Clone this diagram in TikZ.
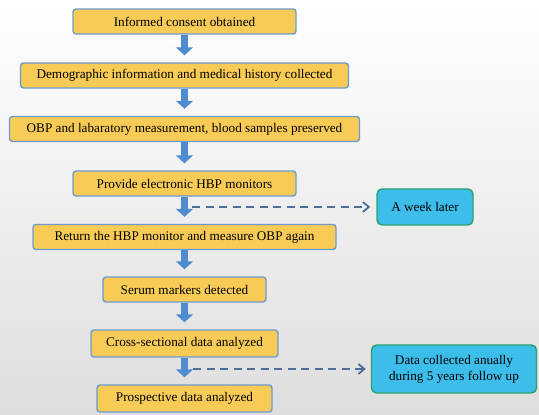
\documentclass[tikz,border=0pt]{standalone}
\usepackage{fontspec}
\setmainfont{Liberation Serif}
\newfontfamily\stepfont{Liberation Serif}
\usepackage{tikz}
\usepackage{xcolor}
\usetikzlibrary{arrows.meta, calc}
\definecolor{stepFill}   {HTML}{F8CB56}
\definecolor{stepEdge}   {HTML}{6C9BD2}
\definecolor{noteFill}   {HTML}{3CBDEA}
\definecolor{noteEdge}   {HTML}{2AA36B}
\definecolor{flowArrow}  {HTML}{4F8BCF}
\definecolor{dashLine}   {HTML}{4E6E9A}

\begin{document}
\begin{tikzpicture}[x=1pt, y=1pt,
    stepbox/.style={draw=stepEdge, fill=stepFill, line width=1.4pt, rounded corners=3pt,
                    minimum height=25pt, inner sep=0pt, font=\stepfont\fontsize{13.2}{15}\selectfont},
    notebox/.style={draw=noteEdge, fill=noteFill, line width=1.4pt, rounded corners=5pt,
                    inner sep=0pt, align=center, font=\stepfont\fontsize{13.2}{16}\selectfont},
    flow/.style={draw=flowArrow, line width=6.5pt, shorten >=7pt,
                 -{Triangle[width=17pt, length=8pt]}},
    later/.style={draw=dashLine, line width=1.8pt, dash pattern=on 8pt off 5.5pt,
                  -{Straight Barb[width=10pt, length=6pt]}}]
  % background
  \shade[top color=white, bottom color=black!13] (0,0) rectangle (539,415);
  \useasboundingbox (0,0) rectangle (539,415);
  % main column
  \node[stepbox, minimum width=223pt] (consent) at (184.5, 393.5) {Informed consent obtained};
  \node[stepbox, minimum width=328pt] (history) at (184.5, 339.5) {Demographic information and medical history collected};
  \node[stepbox, minimum width=350pt] (obp)     at (184.5, 286)   {OBP and labaratory measurement, blood samples preserved};
  \node[stepbox, minimum width=223pt] (provide) at (184.5, 231.5) {Provide electronic HBP monitors};
  \node[stepbox, minimum width=303pt] (return)  at (184.5, 178)   {Return the HBP monitor and measure OBP again};
  \node[stepbox, minimum width=163pt] (serum)   at (184.5, 125.5) {Serum markers detected};
  \node[stepbox, minimum width=187pt, minimum height=27pt] (cross) at (184.5, 71.5) {Cross-sectional data analyzed};
  \node[stepbox, minimum width=175pt, minimum height=27pt] (prosp) at (184.5, 16.5) {Prospective data analyzed};
  % side notes
  \node[notebox, minimum width=96pt, minimum height=36pt]  (week)   at (425, 208) {A week later};
  \node[notebox, minimum width=165pt, minimum height=48pt] (annual) at (454, 46)  {Data collected anually\\during 5 years follow up};
  % block arrows
  \foreach \a/\b in {consent/history, history/obp, obp/provide, provide/return,
                     return/serum, serum/cross, cross/prosp}{
    \draw[flow] (\a) -- (\b);
  }
  % dashed branches
  \coordinate (weekFrom)   at (192, 208);
  \coordinate (annualFrom) at (193, 46);
  \draw[later, shorten >=6pt] (weekFrom) -- (week.west);
  \draw[later, shorten >=5pt] (annualFrom) -- (annual.west);
\end{tikzpicture}
\end{document}
